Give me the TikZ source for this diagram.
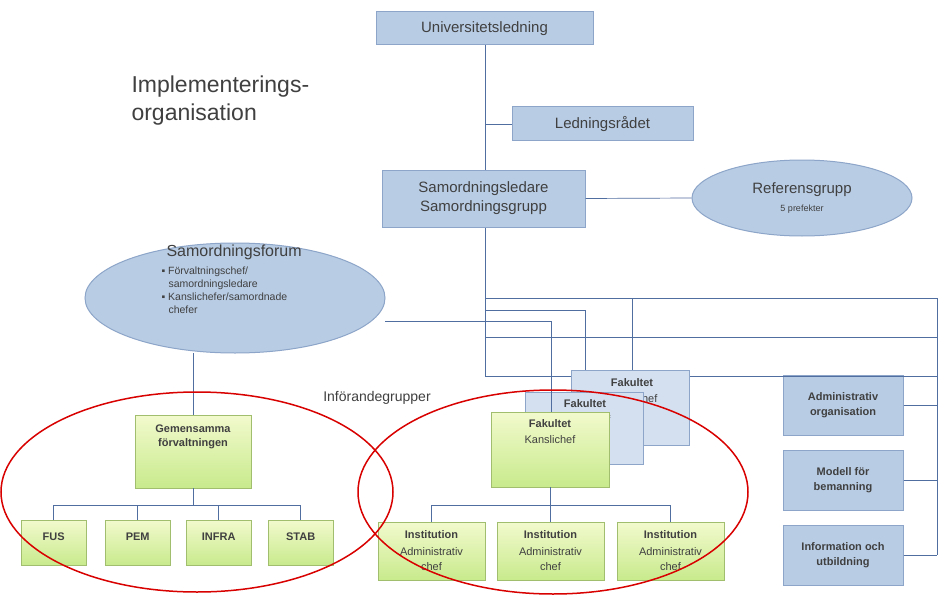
\documentclass[tikz,border=0pt]{standalone}
\usepackage{fontspec}
\setmainfont{Liberation Sans}
\usetikzlibrary{shapes.geometric}
\definecolor{bfill}{RGB}{184,204,228}
\definecolor{bdraw}{RGB}{140,165,200}
\definecolor{lfill}{RGB}{212,224,240}
\definecolor{gtop}{RGB}{242,250,205}
\definecolor{gbot}{RGB}{200,234,140}
\definecolor{gdraw}{RGB}{160,190,110}
\definecolor{txt}{RGB}{64,64,64}
\definecolor{ln}{RGB}{80,110,160}
\begin{document}
\begin{tikzpicture}[x=1pt,y=-1pt,
  bbox/.style={draw=bdraw,fill=bfill,text=txt,line width=1pt,inner sep=0pt,align=center},
  lbox/.style={draw=bdraw,fill=lfill,text=txt,line width=1pt,inner sep=0pt,align=center},
  gbox/.style={draw=gdraw,top color=gtop,bottom color=gbot,text=txt,inner sep=0pt,align=center,font=\fontsize{10}{12}\selectfont},
  con/.style={draw=ln,line width=0.7pt},
  bt/.style={txt,font=\bfseries\fontsize{11}{14}\selectfont,align=center},
  nt/.style={txt,font=\fontsize{11}{13}\selectfont,align=center},
  redell/.style={draw=red!85!black,line width=1.5pt}]
\useasboundingbox (0,0) rectangle (942,599);
\fill[white] (0,0) rectangle (942,599);
\coordinate (t1) at (485,45);
\coordinate (t2) at (485,376);
\draw[con] (t1) -- (t2);
\node[bbox,minimum width=217,minimum height=33,font=\fontsize{15}{17}\selectfont] (uni) at (484.5,28.5) {Universitetsledning};
\node[bbox,minimum width=181,minimum height=34,font=\fontsize{15}{17}\selectfont] (led) at (602.5,124) {Ledningsrådet};
\draw[con] (485,124) -- (led.west);
\node[bbox,minimum width=203,minimum height=57,font=\fontsize{15}{19}\selectfont] (sam) at (483.5,198.5) {Samordningsledare\\Samordningsgrupp};
\node[ellipse,bbox,minimum width=220,minimum height=76] (ref) at (802,198) {};
\draw[con] (sam.east) -- (ref.west);
\node[txt,font=\fontsize{15}{17}\selectfont] (reft) at (802,190) {Referensgrupp};
\node[txt,font=\fontsize{9}{11}\selectfont] (refs) at (802,209) {5 prefekter};
\node[bbox,minimum width=120,minimum height=60,font=\bfseries\fontsize{11}{15}\selectfont] (adm) at (843,405) {Administrativ\\organisation};
\node[bbox,minimum width=120,minimum height=60,font=\bfseries\fontsize{11}{15}\selectfont] (mod) at (843,480) {Modell för\\bemanning};
\node[bbox,minimum width=120,minimum height=60,font=\bfseries\fontsize{11}{15}\selectfont] (inf) at (843,555) {Information och\\utbildning};
\coordinate (r1) at (937,298); \coordinate (r2) at (937,555);
\draw[con] (485,298) -- (r1) -- (r2);
\draw[con] (485,337) -- (937,337);
\draw[con] (485,376) -- (937,376);
\draw[con] (adm.east) -- (937,405);
\draw[con] (mod.east) -- (937,480);
\draw[con] (inf.east) -- (r2);
\draw[con] (485,310) -- (585,310) -- (585,392);
\draw[con] (632,298) -- (632,370);
\node[lbox,minimum width=118,minimum height=75,anchor=north west] (f3) at (571,370) {};
\node[bt] (f3t) at (632,383) {Fakultet};
\node[nt] (f3s) at (632,399) {Kanslichef};
\node[lbox,minimum width=118,minimum height=72,anchor=north west] (f2) at (525,392) {};
\node[bt] (f2t) at (585,404) {Fakultet};
\node[nt] (f2s) at (585,420) {Kanslichef};
\draw[con] (551,321) -- (551,412);
\node[gbox,minimum width=118,minimum height=75,anchor=north west] (f1) at (491,412) {};
\node[bt] (f1t) at (550,424) {Fakultet};
\node[nt] (f1s) at (550,440) {Kanslichef};
\node[ellipse,bbox,minimum width=300,minimum height=110] (for) at (235,298) {};
\draw[con] (385,321) -- (551,321);
\node[txt,font=\fontsize{16}{18}\selectfont,anchor=west] (fort) at (163,252) {Samordningsforum};
\node[txt,font=\fontsize{10.5}{13}\selectfont,anchor=north west,align=left] (forl) at (158,263) {▪ Förvaltningschef/\\\hspace*{7pt}samordningsledare\\▪ Kanslichefer/samordnade\\\hspace*{7pt}chefer};
\node[gbox,minimum width=116,minimum height=73,anchor=north west] (gem) at (135,415) {};
\node[bt] (gemt) at (193,437) {Gemensamma\\förvaltningen};
\draw[con] (193,353) -- (193,415);
\foreach \n/\x/\w in {fus/21/FUS,pem/105/PEM,infra/186/INFRA,stab/268/STAB}
  \node[gbox,minimum width=65,minimum height=45,anchor=north west] (\n) at (\x,520) {\bfseries\fontsize{11}{13}\selectfont\raisebox{12pt}{\w}};
\draw[con] (193,488) -- (193,505);
\draw[con] (53.5,520) -- (53.5,505) -- (300.5,505) -- (300.5,520);
\draw[con] (137.5,505) -- (137.5,520);
\draw[con] (218.5,505) -- (218.5,520);
\foreach \n/\x in {i1/378,i2/497,i3/617}{
  \node[gbox,minimum width=107,minimum height=58,anchor=north west] (\n) at (\x,522) {};
  \node[bt] (\n t) at (\x+53.5,535) {Institution};
  \node[nt,font=\fontsize{11}{15}\selectfont] (\n s) at (\x+53.5,559) {Administrativ\\chef};}
\draw[con] (550.5,487) -- (550.5,522);
\draw[con] (431.5,522) -- (431.5,505) -- (670.5,505) -- (670.5,522);
\node[txt,font=\fontsize{23}{28}\selectfont,anchor=north west,align=left] (title) at (128,72) {Implementerings-\\organisation};
\node[txt,font=\fontsize{14}{16}\selectfont] (infg) at (377,398) {Införandegrupper};
\draw[redell] (197,492) ellipse [x radius=196,y radius=100];
\draw[redell] (553,492) ellipse [x radius=195,y radius=102];
\end{tikzpicture}
\end{document}
